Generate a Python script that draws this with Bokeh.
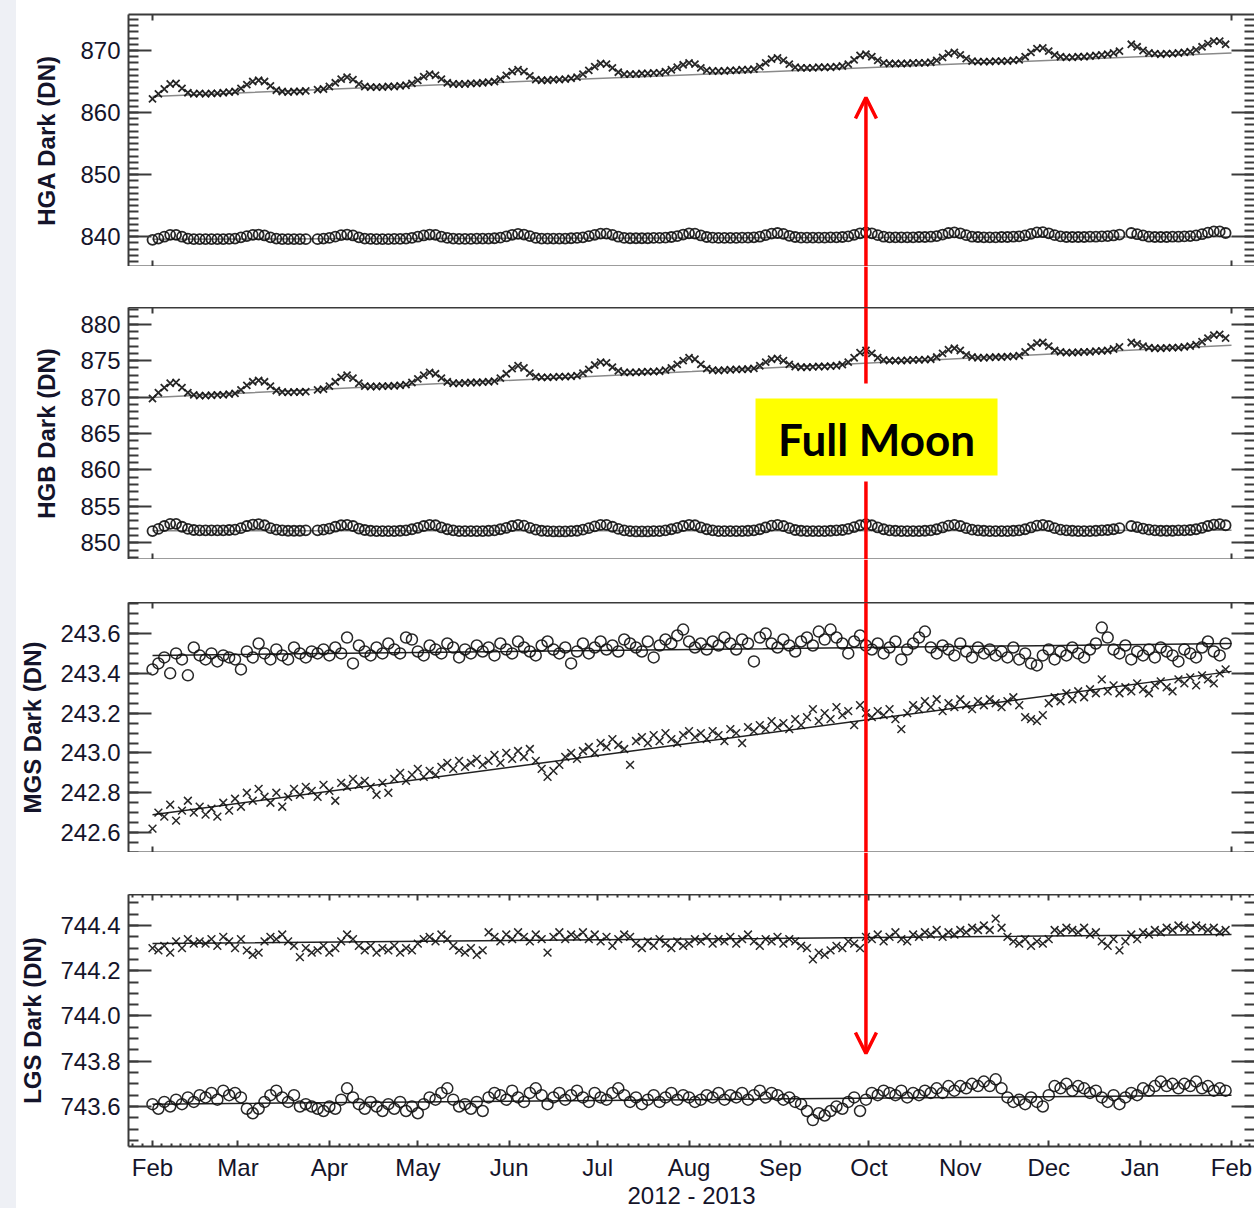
import numpy as np
from bokeh.plotting import figure
from bokeh.layouts import column, row
from bokeh.models import (Range1d, LinearAxis, FixedTicker, Arrow, OpenHead, Label,
                          BoxAnnotation, Span, PrintfTickFormatter, Spacer)
from bokeh.embed import file_html
from bokeh.resources import INLINE

nan = float("nan")

# ---------------- data ----------------
# sampling grid: days since 2012-02-01 (every 2 days)
DAYS = list(range(0, 366, 2))
MONTH_DAYS = [0, 29, 60, 90, 121, 151, 182, 213, 243, 274, 304, 335, 366]
MONTH_LABELS = ["Feb", "Mar", "Apr", "May", "Jun", "Jul", "Aug", "Sep", "Oct",
                "Nov", "Dec", "Jan", "Feb"]
FULL_MOON_DAY = 242  # 2012-09-30

HGA_UP = [
    862.2, 863.0, 863.8, 864.6, 864.7, 863.9, 863.2, 863.0, 863.1, 863.0,
    863.1, 863.1, 863.2, 863.3, 863.4, 863.9, 864.5, 865.0, 865.2, 865.0,
    864.3, 863.6, 863.4, 863.3, 863.4, 863.4, 863.5, nan, 863.7, 863.8,
    864.2, 864.8, 865.4, 865.7, 865.3, 864.6, 864.2, 864.1, 864.1, 864.1,
    864.2, 864.2, 864.3, 864.4, 864.7, 865.2, 865.8, 866.2, 866.0, 865.4,
    864.8, 864.6, 864.6, 864.6, 864.7, 864.7, 864.8, 864.9, 865.0, 865.4,
    866.0, 866.6, 866.9, 866.6, 865.9, 865.3, 865.2, 865.2, 865.3, 865.3,
    865.4, 865.5, 865.7, 866.2, 866.8, 867.4, 867.9, 867.8, 867.2, 866.5,
    866.2, 866.2, 866.2, 866.3, 866.3, 866.4, 866.4, 866.6, 866.9, 867.3,
    867.7, 868.0, 867.8, 867.2, 866.8, 866.7, 866.7, 866.7, 866.8, 866.8,
    866.9, 866.9, 867.0, 867.4, 868.0, 868.6, 868.8, 868.4, 867.8, 867.3,
    867.2, 867.2, 867.2, 867.3, 867.3, 867.3, 867.4, 867.5, 867.8, 868.5,
    869.2, 869.4, 869.0, 868.4, 868.0, 867.9, 867.9, 867.9, 867.9, 868.0,
    868.0, 868.0, 868.1, 868.4, 868.9, 869.5, 869.7, 869.3, 868.7, 868.3,
    868.2, 868.2, 868.2, 868.3, 868.3, 868.3, 868.4, 868.5, 869.0, 869.7,
    870.3, 870.4, 869.9, 869.3, 869.0, 868.9, 868.9, 869.0, 869.0, 869.1,
    869.2, 869.3, 869.4, 869.6, 869.9, nan, 871.0, 870.6, 870.0, 869.6,
    869.5, 869.4, 869.5, 869.5, 869.6, 869.7, 869.8, 870.1, 870.6, 871.1,
    871.5, 871.5, 871.0]

HGA_LO = [
    839.5, 839.7, 840.0, 840.3, 840.3, 840.0, 839.7, 839.6, 839.6, 839.6,
    839.6, 839.6, 839.6, 839.65, 839.7, 839.9, 840.1, 840.3, 840.35, 840.2,
    839.9, 839.7, 839.6, 839.6, 839.6, 839.6, 839.6, nan, 839.6, 839.7,
    839.8, 840.0, 840.25, 840.35, 840.2, 839.9, 839.7, 839.65, 839.6, 839.6,
    839.6, 839.65, 839.65, 839.7, 839.8, 840.0, 840.2, 840.35, 840.3, 840.0,
    839.8, 839.7, 839.65, 839.65, 839.65, 839.7, 839.7, 839.7, 839.75, 839.85,
    840.05, 840.3, 840.45, 840.35, 840.1, 839.8, 839.7, 839.7, 839.7, 839.7,
    839.7, 839.75, 839.8, 839.9, 840.1, 840.3, 840.5, 840.5, 840.3, 840.0,
    839.8, 839.75, 839.75, 839.75, 839.75, 839.8, 839.8, 839.85, 839.95, 840.1,
    840.35, 840.55, 840.5, 840.2, 839.95, 839.85, 839.8, 839.8, 839.8, 839.8,
    839.85, 839.85, 839.9, 840.0, 840.25, 840.5, 840.6, 840.45, 840.15, 839.95,
    839.85, 839.85, 839.85, 839.85, 839.85, 839.9, 839.9, 839.95, 840.05, 840.3,
    840.55, 840.7, 840.55, 840.25, 840.0, 839.9, 839.9, 839.9, 839.9, 839.9,
    839.95, 839.95, 840.0, 840.1, 840.35, 840.6, 840.7, 840.55, 840.25, 840.0,
    839.95, 839.9, 839.9, 839.9, 839.95, 839.95, 840.0, 840.05, 840.2, 840.45,
    840.7, 840.75, 840.55, 840.25, 840.05, 839.95, 839.95, 839.95, 839.95, 840.0,
    840.0, 840.05, 840.1, 840.2, 840.35, nan, 840.6, 840.4, 840.2, 840.0,
    839.95, 839.95, 839.95, 840.0, 840.0, 840.05, 840.1, 840.2, 840.4, 840.65,
    840.85, 840.85, 840.6]

HGB_UP = [
    869.8, 870.6, 871.3, 871.9, 872.0, 871.3, 870.6, 870.3, 870.2, 870.2,
    870.25, 870.3, 870.3, 870.4, 870.5, 871.0, 871.6, 872.1, 872.3, 872.1,
    871.5, 870.9, 870.7, 870.65, 870.7, 870.7, 870.75, nan, 871.0, 871.1,
    871.5, 872.1, 872.7, 873.0, 872.6, 871.9, 871.5, 871.45, 871.45, 871.5,
    871.5, 871.55, 871.6, 871.7, 872.0, 872.5, 873.0, 873.4, 873.2, 872.6,
    872.1, 871.9, 871.9, 871.95, 872.0, 872.0, 872.05, 872.1, 872.2, 872.6,
    873.2, 873.9, 874.3, 874.0, 873.3, 872.8, 872.7, 872.7, 872.75, 872.8,
    872.8, 872.85, 872.95, 873.3, 873.8, 874.4, 874.8, 874.7, 874.1, 873.6,
    873.4, 873.4, 873.4, 873.45, 873.5, 873.5, 873.55, 873.7, 874.0, 874.5,
    875.0, 875.4, 875.2, 874.5, 873.9, 873.7, 873.65, 873.7, 873.75, 873.8,
    873.8, 873.85, 873.95, 874.3, 874.8, 875.2, 875.3, 875.0, 874.5, 874.2,
    874.1, 874.1, 874.15, 874.2, 874.2, 874.25, 874.3, 874.45, 874.8, 875.4,
    876.1, 876.4, 876.0, 875.4, 875.1, 875.0, 875.0, 875.0, 875.05, 875.1,
    875.1, 875.15, 875.2, 875.5, 876.0, 876.5, 876.7, 876.4, 875.8, 875.5,
    875.4, 875.4, 875.45, 875.5, 875.5, 875.55, 875.6, 875.7, 876.2, 876.9,
    877.4, 877.5, 877.0, 876.4, 876.2, 876.1, 876.1, 876.15, 876.2, 876.2,
    876.3, 876.35, 876.4, 876.6, 876.9, nan, 877.5, 877.3, 877.0, 876.8,
    876.7, 876.7, 876.75, 876.8, 876.8, 876.9, 877.0, 877.2, 877.6, 878.1,
    878.5, 878.6, 878.1]

HGB_LO = [
    851.6, 851.9, 852.3, 852.6, 852.6, 852.2, 851.9, 851.75, 851.7, 851.7,
    851.7, 851.7, 851.7, 851.75, 851.8, 852.0, 852.3, 852.5, 852.55, 852.4,
    852.0, 851.8, 851.7, 851.65, 851.65, 851.65, 851.7, nan, 851.7, 851.8,
    851.95, 852.2, 852.4, 852.45, 852.3, 851.95, 851.75, 851.65, 851.6, 851.6,
    851.6, 851.6, 851.65, 851.7, 851.85, 852.05, 852.3, 852.45, 852.4, 852.1,
    851.85, 851.7, 851.6, 851.6, 851.6, 851.6, 851.6, 851.65, 851.7, 851.85,
    852.05, 852.3, 852.45, 852.35, 852.05, 851.8, 851.65, 851.6, 851.55, 851.55,
    851.55, 851.6, 851.65, 851.8, 852.0, 852.25, 852.45, 852.45, 852.2, 851.9,
    851.7, 851.6, 851.55, 851.55, 851.55, 851.6, 851.6, 851.7, 851.85, 852.05,
    852.3, 852.45, 852.4, 852.1, 851.85, 851.7, 851.6, 851.6, 851.6, 851.6,
    851.6, 851.65, 851.7, 851.85, 852.1, 852.35, 852.45, 852.3, 852.0, 851.75,
    851.65, 851.6, 851.6, 851.6, 851.6, 851.65, 851.7, 851.75, 851.9, 852.15,
    852.4, 852.55, 852.4, 852.1, 851.85, 851.7, 851.65, 851.6, 851.6, 851.6,
    851.6, 851.65, 851.7, 851.85, 852.1, 852.35, 852.45, 852.3, 852.0, 851.8,
    851.7, 851.65, 851.6, 851.6, 851.6, 851.6, 851.65, 851.7, 851.85, 852.1,
    852.35, 852.45, 852.3, 852.0, 851.8, 851.7, 851.65, 851.6, 851.6, 851.6,
    851.65, 851.7, 851.75, 851.85, 852.0, nan, 852.3, 852.15, 851.95, 851.8,
    851.7, 851.65, 851.65, 851.65, 851.7, 851.7, 851.75, 851.85, 852.05, 852.3,
    852.5, 852.55, 852.4]

MGS_UP = [
    243.42, 243.45, 243.48, 243.40, 243.50, 243.47, 243.39, 243.53, 243.49, 243.47,
    243.50, 243.46, 243.49, 243.48, 243.47, 243.42, 243.51, 243.48, 243.55, 243.50,
    243.47, 243.52, 243.49, 243.47, 243.53, 243.50, 243.48, 243.51, 243.50, 243.52,
    243.49, 243.53, 243.50, 243.58, 243.45, 243.54, 243.51, 243.49, 243.53, 243.50,
    243.55, 243.52, 243.50, 243.58, 243.57, 243.51, 243.49, 243.54, 243.52, 243.50,
    243.55, 243.53, 243.48, 243.52, 243.50, 243.54, 243.51, 243.53, 243.49, 243.55,
    243.52, 243.50, 243.56, 243.53, 243.51, 243.49, 243.54, 243.56, 243.52, 243.50,
    243.53, 243.45, 243.51, 243.55, 243.50, 243.53, 243.56, 243.52, 243.54, 243.51,
    243.57, 243.55, 243.53, 243.51, 243.56, 243.48, 243.54, 243.57, 243.55, 243.59,
    243.62, 243.56, 243.53, 243.55, 243.52, 243.56, 243.54, 243.58, 243.55, 243.52,
    243.57, 243.55, 243.46, 243.58, 243.60, 243.55, 243.53, 243.57, 243.54, 243.51,
    243.56, 243.58, 243.54, 243.61, 243.57, 243.62, 243.58, 243.55, 243.50, 243.56,
    243.59, 243.54, 243.52, 243.55, 243.50, 243.53, 243.56, 243.47, 243.52, 243.55,
    243.58, 243.61, 243.53, 243.50, 243.54, 243.52, 243.49, 243.55, 243.51, 243.48,
    243.53, 243.50, 243.52, 243.49, 243.51, 243.48, 243.53, 243.47, 243.50, 243.45,
    243.44, 243.49, 243.52, 243.47, 243.51, 243.49, 243.53, 243.50, 243.48, 243.52,
    243.55, 243.63, 243.58, 243.52, 243.50, 243.54, 243.47, 243.51, 243.49, 243.52,
    243.48, 243.53, 243.51, 243.49, 243.46, 243.52, 243.50, 243.48, 243.53, 243.56,
    243.51, 243.49, 243.55]

MGS_LO = [
    242.62, 242.70, 242.68, 242.74, 242.66, 242.71, 242.76, 242.70, 242.73, 242.69,
    242.72, 242.68, 242.75, 242.71, 242.77, 242.73, 242.80, 242.76, 242.82, 242.78,
    242.75, 242.80, 242.73, 242.78, 242.82, 242.79, 242.83, 242.81, 242.78, 242.84,
    242.81, 242.76, 242.85, 242.83, 242.87, 242.84, 242.86, 242.83, 242.79, 242.85,
    242.80, 242.87, 242.90, 242.86, 242.89, 242.92, 242.88, 242.91, 242.89, 242.93,
    242.95, 242.92, 242.96, 242.93, 242.95, 242.97, 242.94, 242.96, 242.99, 242.95,
    243.00, 242.97, 243.01, 242.98, 243.02, 242.96, 242.92, 242.88, 242.91, 242.94,
    242.98, 243.00, 242.97, 243.01, 243.03, 243.00, 243.05, 243.03, 243.07, 243.04,
    243.02, 242.94, 243.06, 243.08, 243.05, 243.09, 243.06, 243.10, 243.07, 243.05,
    243.09, 243.11, 243.08, 243.10, 243.07, 243.11, 243.09, 243.06, 243.12, 243.10,
    243.05, 243.13, 243.11, 243.14, 243.12, 243.16, 243.13, 243.15, 243.12, 243.17,
    243.14, 243.18, 243.22, 243.16, 243.20, 243.17, 243.23, 243.19, 243.21, 243.14,
    243.24, 243.20, 243.18, 243.21, 243.19, 243.22, 243.17, 243.12, 243.20, 243.24,
    243.22, 243.26, 243.23, 243.27, 243.21, 243.25, 243.23, 243.27, 243.24, 243.22,
    243.26, 243.24, 243.27, 243.25, 243.23, 243.26, 243.28, 243.24, 243.18, 243.17,
    243.16, 243.19, 243.25, 243.28, 243.26, 243.30, 243.27, 243.31, 243.28, 243.32,
    243.30, 243.37, 243.31, 243.34, 243.30, 243.33, 243.31, 243.35, 243.32, 243.30,
    243.34, 243.36, 243.33, 243.31, 243.37, 243.35, 243.38, 243.34, 243.39, 243.37,
    243.35, 243.40, 243.42]

LGS_UP = [
    744.30, 744.29, 744.31, 744.28, 744.33, 744.30, 744.34, 744.32, 744.33, 744.32,
    744.34, 744.31, 744.35, 744.33, 744.30, 744.34, 744.29, 744.27, 744.28, 744.33,
    744.35, 744.34, 744.36, 744.33, 744.31, 744.26, 744.30, 744.28, 744.29, 744.31,
    744.28, 744.30, 744.33, 744.36, 744.34, 744.31, 744.29, 744.31, 744.28, 744.30,
    744.29, 744.31, 744.28, 744.30, 744.29, 744.32, 744.34, 744.35, 744.33, 744.36,
    744.34, 744.31, 744.29, 744.28, 744.30, 744.27, 744.29, 744.37, 744.35, 744.33,
    744.36, 744.34, 744.37, 744.35, 744.33, 744.36, 744.34, 744.28, 744.35, 744.37,
    744.34, 744.36, 744.35, 744.37, 744.34, 744.36, 744.33, 744.35, 744.31, 744.34,
    744.36, 744.35, 744.32, 744.30, 744.33, 744.31, 744.34, 744.32, 744.30, 744.33,
    744.31, 744.32, 744.34, 744.33, 744.35, 744.32, 744.34, 744.33, 744.35, 744.32,
    744.34, 744.36, 744.33, 744.31, 744.34, 744.33, 744.35, 744.32, 744.34, 744.33,
    744.31, 744.30, 744.25, 744.28, 744.27, 744.29, 744.31, 744.30, 744.33, 744.32,
    744.30, 744.35, 744.34, 744.36, 744.33, 744.35, 744.37, 744.34, 744.33, 744.36,
    744.35, 744.37, 744.36, 744.38, 744.35, 744.37, 744.36, 744.38, 744.37, 744.39,
    744.38, 744.40, 744.38, 744.43, 744.39, 744.35, 744.33, 744.32, 744.34, 744.31,
    744.33, 744.32, 744.34, 744.38, 744.37, 744.39, 744.38, 744.37, 744.39, 744.36,
    744.37, 744.33, 744.31, 744.34, 744.29, 744.33, 744.36, 744.34, 744.37, 744.36,
    744.38, 744.37, 744.39, 744.38, 744.40, 744.39, 744.38, 744.40, 744.39, 744.38,
    744.39, 744.37, 744.38]

LGS_LO = [
    743.61, 743.59, 743.62, 743.60, 743.63, 743.61, 743.64, 743.62, 743.65, 743.64,
    743.66, 743.63, 743.67, 743.65, 743.66, 743.64, 743.59, 743.57, 743.59, 743.62,
    743.65, 743.67, 743.64, 743.62, 743.65, 743.60, 743.61, 743.60, 743.59, 743.58,
    743.60, 743.59, 743.63, 743.68, 743.64, 743.61, 743.59, 743.62, 743.60, 743.58,
    743.61, 743.59, 743.62, 743.58, 743.60, 743.57, 743.61, 743.64, 743.63, 743.66,
    743.68, 743.63, 743.60, 743.61, 743.59, 743.62, 743.58, 743.64, 743.66, 743.65,
    743.63, 743.67, 743.64, 743.62, 743.66, 743.68, 743.65, 743.61, 743.64, 743.66,
    743.63, 743.65, 743.67, 743.64, 743.62, 743.66, 743.64, 743.63, 743.66, 743.68,
    743.65, 743.62, 743.64, 743.61, 743.63, 743.65, 743.62, 743.64, 743.66, 743.63,
    743.65, 743.64, 743.62, 743.63, 743.65, 743.64, 743.66, 743.63, 743.65, 743.64,
    743.66, 743.63, 743.65, 743.67, 743.64, 743.66, 743.65, 743.63, 743.64, 743.62,
    743.61, 743.58, 743.54, 743.57, 743.56, 743.58, 743.60, 743.59, 743.62, 743.64,
    743.58, 743.63, 743.66, 743.65, 743.67, 743.66, 743.65, 743.67, 743.64, 743.66,
    743.65, 743.67, 743.66, 743.68, 743.66, 743.69, 743.67, 743.69, 743.68, 743.70,
    743.69, 743.71, 743.69, 743.72, 743.68, 743.64, 743.62, 743.63, 743.61, 743.64,
    743.62, 743.60, 743.65, 743.69, 743.68, 743.70, 743.67, 743.69, 743.68, 743.66,
    743.67, 743.64, 743.62, 743.65, 743.61, 743.64, 743.66, 743.65, 743.68, 743.67,
    743.69, 743.71, 743.69, 743.70, 743.68, 743.70, 743.69, 743.71, 743.68, 743.69,
    743.67, 743.68, 743.67]

# trend (fit) lines
FIT_DAYS = [0, 183, 366]
HGA_UP_FIT = [862.6, 866.1, 869.6]
HGA_LO_FIT = [839.6, 839.8, 840.0]
HGB_UP_FIT = [869.95, 873.5, 877.1]
HGB_LO_FIT = [851.65, 851.65, 851.7]
MGS_UP_FIT = [243.49, 243.52, 243.55]
MGS_LO_FIT = [242.69, 243.05, 243.41]
LGS_UP_FIT = [744.32, 744.34, 744.36]
LGS_LO_FIT = [743.61, 743.63, 743.65]

# ---------------- style ----------------
RED = "#ff0000"
INK = "#14142a"
FRAME = "#3a3a3a"
MARK = "#111111"
FONT = "Liberation Sans"
STRIP_W = 16
FRAME_W = 1126
LEFT = 112

XR = Range1d(-8.14, 373.8)


def style_axis(ax, major_in, minor_in, line=True):
    ax.major_tick_in = major_in
    ax.major_tick_out = 0
    ax.minor_tick_in = minor_in
    ax.minor_tick_out = 0
    ax.major_tick_line_color = FRAME
    ax.minor_tick_line_color = FRAME
    ax.major_tick_line_width = 2
    ax.minor_tick_line_width = 2
    ax.axis_line_color = FRAME if line else None
    ax.axis_line_width = 2


def hide_labels(ax):
    # tick marks only: labels are neither drawn nor given room
    ax.major_label_text_font_size = "0px"
    ax.major_label_text_color = None
    ax.major_label_text_alpha = 0
    ax.major_label_standoff = 0


def base_fig(frame_h, yr, top=0):
    p = figure(frame_width=FRAME_W, frame_height=frame_h, x_range=XR, y_range=Range1d(*yr),
               min_border_left=LEFT, min_border_right=0, min_border_top=top,
               min_border_bottom=0, x_axis_location=None, y_axis_location=None,
               toolbar_location=None, output_backend="svg")
    p.outline_line_color = None
    p.grid.visible = False
    p.background_fill_color = "white"
    p.border_fill_color = "white"
    return p


def panel(label, yr, yticks, yminor, fmt, frame_h, label_standoff, top=0, month_axis=False):
    p = base_fig(frame_h, yr, top)
    yt = FixedTicker(ticks=yticks, minor_ticks=yminor)
    left = LinearAxis(ticker=yt, formatter=PrintfTickFormatter(format=fmt), axis_label=label)
    style_axis(left, 23, 10)
    left.major_label_text_font = FONT
    left.major_label_text_font_size = "24px"
    left.major_label_text_color = INK
    left.major_label_standoff = 8
    left.axis_label_text_font = FONT
    left.axis_label_text_font_style = "bold"
    left.axis_label_text_font_size = "24px"
    left.axis_label_text_color = INK
    left.axis_label_standoff = label_standoff
    p.add_layout(left, "left")

    right = LinearAxis(ticker=yt)
    style_axis(right, 23, 10, line=False)
    hide_labels(right)
    p.add_layout(right, "right")

    if month_axis:
        minor = [MONTH_DAYS[0] - 31 * k / 9 for k in (1, 2)]
        for a, b in zip(MONTH_DAYS[:-1], MONTH_DAYS[1:]):
            minor += [a + k * (b - a) / 9 for k in range(1, 9)]
        minor += [MONTH_DAYS[-1] + 28 * k / 9 for k in (1, 2)]
        xt = FixedTicker(ticks=MONTH_DAYS, minor_ticks=minor)
        top_ax = LinearAxis(ticker=xt)
        style_axis(top_ax, 6, 3)
        hide_labels(top_ax)
        p.add_layout(top_ax, "above")
        bot = LinearAxis(ticker=xt, axis_label="2012 - 2013",
                         major_label_overrides={d: m for d, m in zip(MONTH_DAYS, MONTH_LABELS)})
        style_axis(bot, 6, 3)
        bot.major_label_text_font = FONT
        bot.major_label_text_font_size = "24px"
        bot.major_label_text_color = INK
        bot.major_label_standoff = 7
        bot.axis_label_text_font = FONT
        bot.axis_label_text_font_style = "normal"
        bot.axis_label_text_font_size = "24px"
        bot.axis_label_text_color = INK
        bot.axis_label_standoff = -2
        p.add_layout(bot, "below")
    else:
        xt = FixedTicker(ticks=[MONTH_DAYS[0], MONTH_DAYS[-1]], minor_ticks=[])
        for loc in ("above", "below"):
            ax = LinearAxis(ticker=xt)
            style_axis(ax, 6, 0)
            hide_labels(ax)
            p.add_layout(ax, loc)
    return p


def add_series(p, up, lo, up_fit, lo_fit, up_marker, lo_marker, size, lw, fit_color):
    p.line(FIT_DAYS, up_fit, line_color=fit_color, line_width=1.5)
    p.line(FIT_DAYS, lo_fit, line_color=fit_color, line_width=1.5)
    for vals, mk in ((up, up_marker), (lo, lo_marker)):
        p.scatter(DAYS, np.array(vals, dtype=float), marker=mk, size=size,
                  line_color=MARK, fill_color=None, line_width=lw, line_alpha=0.9)


def ypos(yr, frame_top, frame_h, px):
    # convert a page pixel row into the panel's data units (for annotations)
    return yr[1] - (px - frame_top) * (yr[1] - yr[0]) / frame_h


def gap(h):
    g = base_fig(h, (0, 1))
    g.add_layout(Span(location=FULL_MOON_DAY, dimension="height", line_color=RED, line_width=3.5))
    return g


def xday(px):
    return (px - 152) / 2.948


# ---------------- panels ----------------
YR1 = (835.2, 875.8)
p1 = panel("HGA Dark (DN)", YR1, [840, 850, 860, 870], list(range(836, 876)), "%d", 252, 17, top=14)
add_series(p1, HGA_UP, HGA_LO, HGA_UP_FIT, HGA_LO_FIT, "x", "circle", 10, 1.8, "#8a8a8a")
p1.add_layout(Arrow(end=OpenHead(size=21, line_color=RED, line_width=3.5),
                    x_start=FULL_MOON_DAY, y_start=YR1[0], x_end=FULL_MOON_DAY,
                    y_end=ypos(YR1, 14, 252, 97), line_color=RED, line_width=3.5))

YR2 = (847.7, 882.3)
p2 = panel("HGB Dark (DN)", YR2, [850, 855, 860, 865, 870, 875, 880], list(range(848, 883)), "%d", 252, 17)
add_series(p2, HGB_UP, HGB_LO, HGB_UP_FIT, HGB_LO_FIT, "x", "circle", 10, 1.8, "#8a8a8a")
p2.add_layout(Arrow(end=None, x_start=FULL_MOON_DAY, y_start=YR2[1], x_end=FULL_MOON_DAY,
                    y_end=ypos(YR2, 307, 252, 383), line_color=RED, line_width=3.5))
p2.add_layout(Arrow(end=None, x_start=FULL_MOON_DAY, y_start=ypos(YR2, 307, 252, 481),
                    x_end=FULL_MOON_DAY, y_end=YR2[0], line_color=RED, line_width=3.5))
p2.add_layout(BoxAnnotation(left=xday(755), right=xday(997),
                            top=ypos(YR2, 307, 252, 398), bottom=ypos(YR2, 307, 252, 475),
                            fill_color="#ffff00", fill_alpha=1.0, line_alpha=0.0))
p2.add_layout(Label(x=xday(876), y=ypos(YR2, 307, 252, 438), text="Full Moon",
                    text_align="center", text_baseline="middle", text_font="Lato",
                    text_font_style="bold", text_font_size="44px", text_color="black"))

YR3 = (242.5, 243.756)
p3 = panel("MGS Dark (DN)", YR3, [242.6, 242.8, 243.0, 243.2, 243.4, 243.6],
           [round(242.5 + 0.05 * i, 2) for i in range(26)], "%.1f", 250, 11)
add_series(p3, MGS_UP, MGS_LO, MGS_UP_FIT, MGS_LO_FIT, "circle", "x", 11, 1.5, "#222222")
p3.add_layout(Span(location=FULL_MOON_DAY, dimension="height", line_color=RED, line_width=3.5))

YR4 = (743.423, 744.537)
p4 = panel("LGS Dark (DN)", YR4, [743.6, 743.8, 744.0, 744.2, 744.4],
           [round(743.45 + 0.05 * i, 2) for i in range(22)], "%.1f", 252, 11, month_axis=True)
add_series(p4, LGS_UP, LGS_LO, LGS_UP_FIT, LGS_LO_FIT, "x", "circle", 11, 1.5, "#222222")
p4.add_layout(Arrow(end=OpenHead(size=21, line_color=RED, line_width=3.5),
                    x_start=FULL_MOON_DAY, y_start=YR4[1], x_end=FULL_MOON_DAY,
                    y_end=ypos(YR4, 894, 252, 1053), line_color=RED, line_width=3.5))

strip = Spacer(width=STRIP_W, height=1208, styles={"background-color": "#eef0f5"})
col = column(p1, gap(41), p2, gap(43), p3, gap(42), p4, spacing=0)
layout = row(strip, col, spacing=0)

open("out.html", "w").write(file_html(layout, INLINE, title="Dark trends"))
